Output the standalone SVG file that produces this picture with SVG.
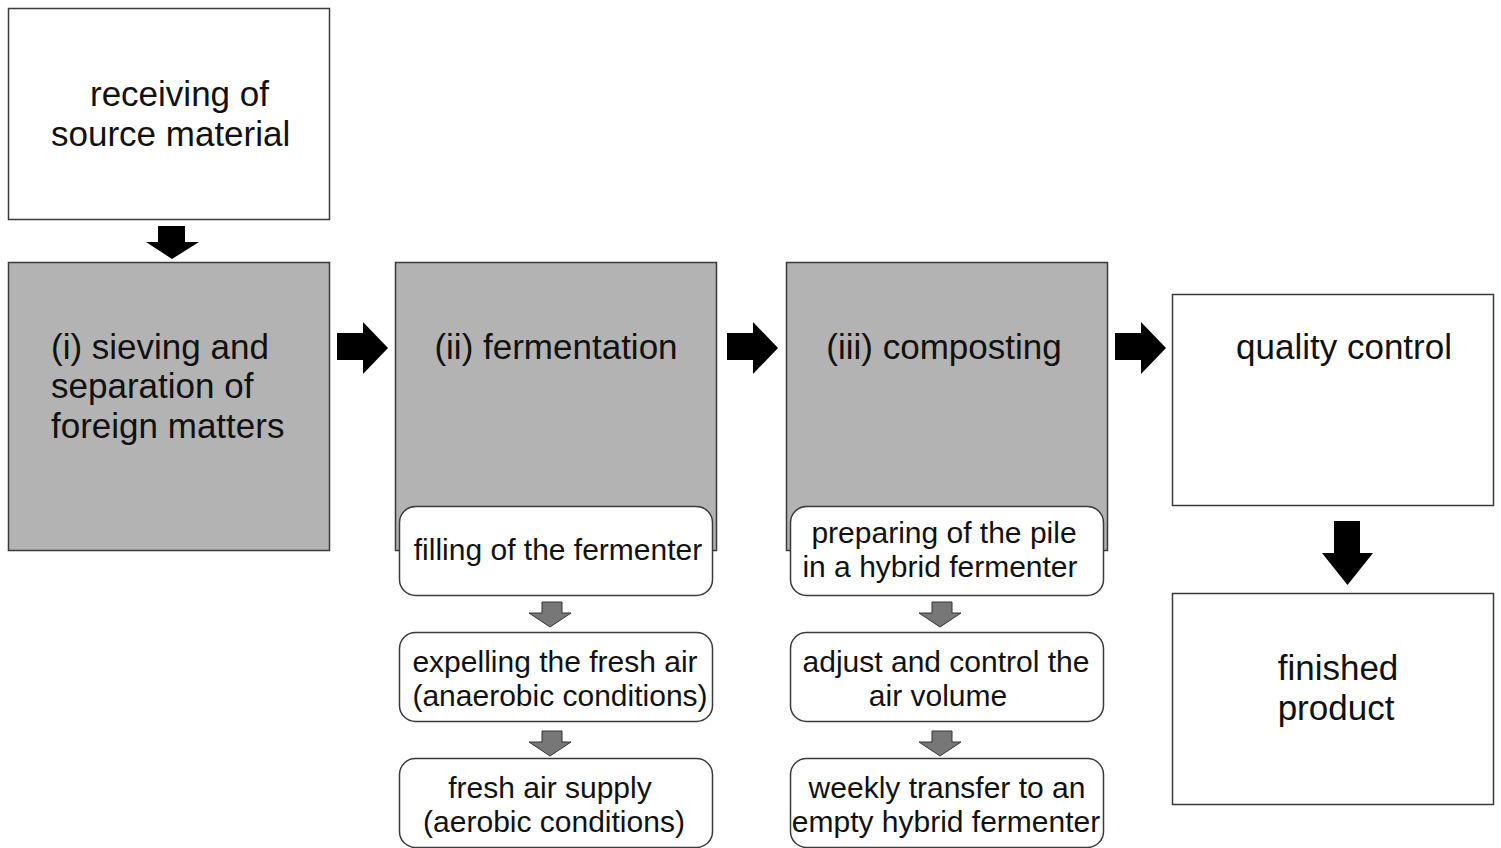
<svg xmlns="http://www.w3.org/2000/svg" width="1501" height="848" viewBox="0 0 1501 848">
<style>
.box{fill:#fff;stroke:#3a3a3a;stroke-width:1.5}
.gbox{fill:#b3b3b3;stroke:#3a3a3a;stroke-width:1.5}
.rbox{fill:#fff;stroke:#3a3a3a;stroke-width:1.5}
.big{font-family:"Liberation Sans",Arial,sans-serif;font-size:35px;fill:#111}
.sm{font-family:"Liberation Sans",Arial,sans-serif;font-size:30px;fill:#111}
.mid{text-anchor:middle}
.blk{fill:#000}
.gry{fill:#777;stroke:#333;stroke-width:1}
</style>
<defs>
<path id="arrR" d="M0,11 H26 V0 L51,26 L26,52 V38 H0 Z"/>
<path id="arrD" d="M12,0 H38 V32 H51 L25.5,64 L0,32 H12 Z"/>
<path id="arrDs" d="M13,0 H33 V11 H42 L21,25 L0,11 H13 Z"/>
<path id="arrDt" d="M12,0 H39 V16 H53 L26,33 L0,16 H12 Z"/>
</defs>
<g id="receiving">
<rect class="box" x="8.5" y="8.5" width="321" height="211"/>
<text class="big" x="90" y="106">receiving of</text>
<text class="big" x="51" y="146">source material</text>
</g>
<g id="sieving">
<rect class="gbox" x="8.5" y="262.5" width="321" height="288"/>
<text class="big" x="51" y="359">(i) sieving and</text>
<text class="big" x="51" y="398">separation of</text>
<text class="big" x="51" y="438">foreign matters</text>
</g>
<g id="fermentation">
<rect class="gbox" x="395.5" y="262.5" width="321" height="288"/>
<text class="big mid" x="556" y="359">(ii) fermentation</text>
</g>
<g id="filling">
<rect class="rbox" x="399.5" y="506.5" width="313" height="89" rx="16"/>
<text class="sm mid" x="558" y="560">filling of the fermenter</text>
</g>
<g id="expelling">
<rect class="rbox" x="399.5" y="632.5" width="313" height="89" rx="16"/>
<text class="sm mid" x="555" y="672">expelling the fresh air</text>
<text class="sm mid" x="560" y="706">(anaerobic conditions)</text>
</g>
<g id="freshair">
<rect class="rbox" x="399.5" y="758.5" width="313" height="89" rx="16"/>
<text class="sm mid" x="550" y="798">fresh air supply</text>
<text class="sm mid" x="554" y="832">(aerobic conditions)</text>
</g>
<g id="composting">
<rect class="gbox" x="786.5" y="262.5" width="321" height="288"/>
<text class="big mid" x="944" y="359">(iii) composting</text>
</g>
<g id="preparing">
<rect class="rbox" x="790.5" y="506.5" width="313" height="89" rx="16"/>
<text class="sm mid" x="944" y="543">preparing of the pile</text>
<text class="sm mid" x="940" y="577">in a hybrid fermenter</text>
</g>
<g id="adjust">
<rect class="rbox" x="790.5" y="632.5" width="313" height="89" rx="16"/>
<text class="sm mid" x="946" y="672">adjust and control the</text>
<text class="sm mid" x="938" y="706">air volume</text>
</g>
<g id="weekly">
<rect class="rbox" x="790.5" y="758.5" width="313" height="89" rx="16"/>
<text class="sm mid" x="947" y="798">weekly transfer to an</text>
<text class="sm mid" x="946" y="832">empty hybrid fermenter</text>
</g>
<g id="quality">
<rect class="box" x="1172.5" y="294.5" width="321" height="211"/>
<text class="big mid" x="1344" y="359">quality control</text>
</g>
<g id="finished">
<rect class="box" x="1172.5" y="593.5" width="321" height="211"/>
<text class="big mid" x="1338" y="680">finished</text>
<text class="big mid" x="1336" y="720">product</text>
</g>
<g id="connectors">
<use href="#arrDt" class="blk" x="146" y="226"/>
<use href="#arrR" class="blk" x="337" y="322"/>
<use href="#arrR" class="blk" x="727" y="322"/>
<use href="#arrR" class="blk" x="1115" y="322"/>
<use href="#arrD" class="blk" x="1322" y="521"/>
<use href="#arrDs" class="gry" x="529" y="602"/>
<use href="#arrDs" class="gry" x="529" y="731"/>
<use href="#arrDs" class="gry" x="919" y="602"/>
<use href="#arrDs" class="gry" x="919" y="731"/>
</g>
</svg>
